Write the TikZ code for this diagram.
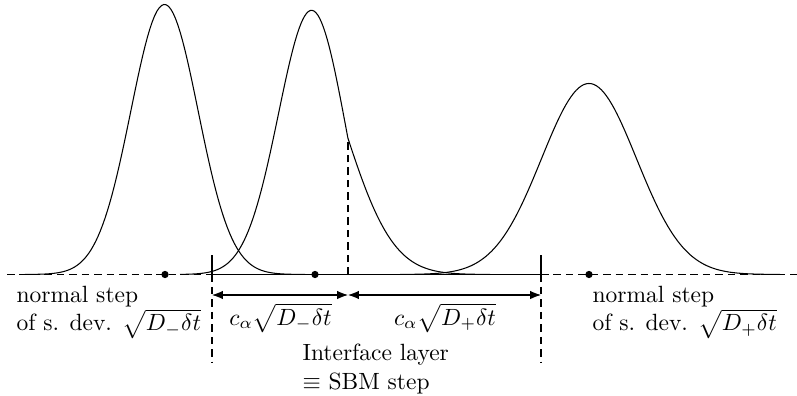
\documentclass[tikz,border=0pt]{standalone}
\usetikzlibrary{arrows.meta}
\begin{document}
\begin{tikzpicture}[x=0.4255pt, y=-0.4255pt, line width=0.45pt,
  axisdash/.style={dash pattern=on 3.2pt off 2.1pt},
  curve/.style={line join=round},
  dot/.style={circle, fill, inner sep=0pt, minimum size=3.1pt},
  lbl/.style={inner sep=0pt},
  dim/.style={{Latex[length=4.6pt,width=3.6pt]}-{Latex[length=4.6pt,width=3.6pt]}}]
\useasboundingbox (0,0) rectangle (797,396);

% axis
\coordinate (A0) at (7,274.5);
\coordinate (AL) at (212,274.5);
\coordinate (AR) at (541,274.5);
\coordinate (A1) at (797,274.5);
\draw[axisdash] (A0) -- (AL);
\draw (AL) -- (AR);
\draw[axisdash] (AR) -- (A1);

% interface layer bounds
\coordinate (TL) at (212,255);
\coordinate (BL) at (212,363);
\coordinate (TR) at (541,255);
\coordinate (BR) at (541,363);
\draw (TL) -- (AL);
\draw[axisdash] (AL) -- (BL);
\draw (TR) -- (AR);
\draw[axisdash] (AR) -- (BR);

% interface
\coordinate (I0) at (348,274.5);
\coordinate (I1) at (348,137.5);
\draw[axisdash] (I0) -- (I1);

% curves
\draw[curve] plot[domain=25:305, samples=120] (\x, {274.5-270*exp(-0.5*((\x-164.5)/33.6)^2)});
\draw[curve] plot[domain=180:348, samples=90] (\x, {274.5-267*(exp(-0.5*((\x-312.3)/33.6)^2)-0.105*exp(-0.5*((\x-383.7)/33.6)^2))})
  -- plot[domain=348:490, samples=70] (\x, {274.5-239.5*exp(-0.5*((\x-297.5)/47.5)^2)});
\draw[curve] plot[domain=400:780, samples=150] (\x, {274.5-191*exp(-0.5*((\x-589)/47.5)^2)});

% dots
\node[dot] (p1) at (165,274.5) {};
\node[dot] (p2) at (315,274.5) {};
\node[dot] (p3) at (589,274.5) {};

% dimension arrows
\coordinate (dL) at (212,295);
\coordinate (dM) at (348,295);
\coordinate (dR) at (541,295);
\draw[dim] (dL) -- (dM);
\draw[dim] (dM) -- (dR);

% labels
\node[lbl, anchor=base] (cm) at (280.5,325) {$c_\alpha\sqrt{D_-\delta t}$};
\node[lbl, anchor=base] (cp) at (445,325) {$c_\alpha\sqrt{D_+\delta t}$};
\node[lbl, align=left, anchor=north west] (il) at (302,343.7) {Interface layer\\$\equiv$ SBM step};
\node[lbl, align=left, anchor=north west] (nl) at (16,285.7) {normal step\\of s. dev. $\sqrt{D_-\delta t}$};
\node[lbl, align=left, anchor=north west] (nr) at (592,285.7) {normal step\\of s. dev. $\sqrt{D_+\delta t}$};
\end{tikzpicture}
\end{document}
